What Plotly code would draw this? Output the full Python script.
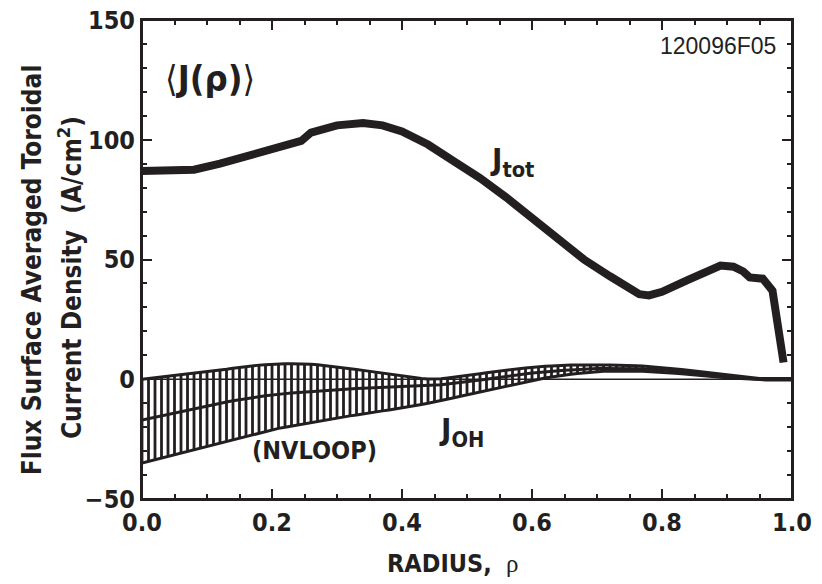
import plotly.graph_objects as go

# ---- data ----
rho_tot = [0.0, 0.05, 0.08, 0.12, 0.16, 0.19, 0.23, 0.245, 0.26, 0.30, 0.34, 0.37, 0.40,
           0.44, 0.48, 0.52, 0.56, 0.60, 0.64, 0.68, 0.72, 0.75, 0.765, 0.78, 0.80, 0.84,
           0.87, 0.89, 0.91, 0.925, 0.935, 0.955, 0.97, 0.987]
j_tot = [87, 87, 87.5, 90, 93, 96, 98.5, 99.5, 103, 106, 107, 106, 103.5,
         98, 91, 84, 76, 67, 58.5, 50, 43, 37.5, 35.5, 35, 36.5, 41.5,
         45.5, 47.5, 47, 45, 42.5, 42, 37, 7]

rho_oh = [0.00, 0.01, 0.02, 0.03, 0.04, 0.05, 0.06, 0.07, 0.08, 0.09,
          0.10, 0.11, 0.12, 0.13, 0.14, 0.15, 0.16, 0.17, 0.18, 0.19,
          0.20, 0.21, 0.22, 0.23, 0.24, 0.25, 0.26, 0.27, 0.28, 0.29,
          0.30, 0.31, 0.32, 0.33, 0.34, 0.35, 0.36, 0.37, 0.38, 0.39,
          0.40, 0.41, 0.42, 0.43, 0.44, 0.45, 0.46, 0.47, 0.48, 0.49,
          0.50, 0.51, 0.52, 0.53, 0.54, 0.55, 0.56, 0.57, 0.58, 0.59,
          0.60, 0.61, 0.62, 0.63, 0.64, 0.65, 0.66, 0.67, 0.68, 0.69,
          0.70, 0.71, 0.72, 0.73, 0.74, 0.75, 0.76, 0.77, 0.78, 0.79,
          0.80, 0.81, 0.82, 0.83, 0.84, 0.85, 0.86, 0.87, 0.88, 0.89,
          0.90, 0.91, 0.92, 0.93, 0.94, 0.95, 0.96, 0.97, 0.98, 0.99, 1.00]
j_oh = [-17.0, -16.4, -15.8, -15.2, -14.6, -14.0, -13.4, -12.8, -12.2, -11.6,
        -11.0, -10.5, -10.0, -9.5, -9.0, -8.5, -8.1, -7.7, -7.3, -6.9,
        -6.5, -6.2, -6.0, -5.7, -5.5, -5.2, -5.0, -4.8, -4.7, -4.5,
        -4.3, -4.2, -4.1, -3.9, -3.8, -3.7, -3.6, -3.5, -3.4, -3.3,
        -3.2, -3.1, -2.9, -2.8, -2.6, -2.5, -2.3, -2.0, -1.7, -1.5,
        -1.2, -0.8, -0.4, 0.0, 0.4, 0.8, 1.2, 1.5, 1.9, 2.2,
        2.6, 2.8, 3.1, 3.3, 3.6, 3.8, 3.9, 4.1, 4.2, 4.4,
        4.5, 4.5, 4.5, 4.6, 4.6, 4.6, 4.5, 4.4, 4.2, 4.1,
        4.0, 3.7, 3.5, 3.2, 3.0, 2.7, 2.4, 2.1, 1.8, 1.5,
        1.2, 0.9, 0.7, 0.4, 0.2, 0.1, 0.0, 0.0, 0.0, 0.0, 0.0]
j_oh_hi = [0.0, 0.3, 0.6, 0.9, 1.2, 1.5, 1.8, 2.1, 2.4, 2.7,
           3.0, 3.4, 3.8, 4.2, 4.6, 5.0, 5.3, 5.6, 5.9, 6.1,
           6.3, 6.4, 6.5, 6.5, 6.5, 6.5, 6.3, 6.1, 5.8, 5.6,
           5.3, 4.9, 4.5, 4.1, 3.7, 3.3, 2.9, 2.5, 2.0, 1.6,
           1.2, 0.9, 0.6, 0.3, 0.1, 0.0, 0.2, 0.5, 0.8, 1.1,
           1.5, 1.9, 2.3, 2.7, 3.1, 3.5, 3.8, 4.1, 4.4, 4.7,
           5.0, 5.2, 5.4, 5.5, 5.7, 5.8, 5.9, 5.9, 6.0, 6.0,
           6.0, 6.0, 5.9, 5.9, 5.8, 5.8, 5.6, 5.5, 5.3, 5.2,
           5.0, 4.7, 4.4, 4.1, 3.8, 3.5, 3.2, 2.8, 2.5, 2.1,
           1.8, 1.5, 1.2, 0.8, 0.5, 0.3, 0.3, 0.3, 0.3, 0.3, 0.3]
j_oh_lo = [-35.0, -34.3, -33.6, -32.9, -32.2, -31.5, -30.8, -30.1, -29.4, -28.7,
           -28.0, -27.3, -26.6, -25.9, -25.2, -24.5, -23.8, -23.1, -22.4, -21.7,
           -21.0, -20.5, -20.0, -19.5, -19.0, -18.5, -18.0, -17.6, -17.1, -16.7,
           -16.2, -15.8, -15.3, -14.9, -14.4, -14.0, -13.6, -13.2, -12.8, -12.4,
           -12.0, -11.5, -11.0, -10.5, -10.0, -9.5, -8.9, -8.3, -7.7, -7.1,
           -6.5, -5.9, -5.3, -4.7, -4.1, -3.5, -2.9, -2.3, -1.7, -1.1,
           -0.5, 0.0, 0.5, 0.9, 1.4, 1.8, 2.1, 2.4, 2.7, 2.9,
           3.2, 3.3, 3.3, 3.4, 3.5, 3.5, 3.4, 3.3, 3.2, 3.1,
           3.0, 2.8, 2.5, 2.3, 2.0, 1.8, 1.6, 1.3, 1.1, 0.8,
           0.6, 0.4, 0.2, 0.0, -0.2, -0.3, -0.3, -0.3, -0.3, -0.3, -0.3]

x_ticks = [0.0, 0.2, 0.4, 0.6, 0.8, 1.0]
y_ticks = [-50, 0, 50, 100, 150]

INK = "#231f20"
BOLD = "Liberation Sans Narrow, DejaVu Sans Condensed, Arial Narrow, sans-serif"
REG = "Liberation Sans, Arial, sans-serif"

err_up = [h - c for h, c in zip(j_oh_hi, j_oh)]
err_dn = [c - l for c, l in zip(j_oh, j_oh_lo)]

fig = go.Figure()
# zero line
fig.add_trace(go.Scatter(x=[0, 1], y=[0, 0], mode="lines",
                         line=dict(color=INK, width=1.5), hoverinfo="skip"))
# hatched uncertainty band (vertical error bars) + centre line
fig.add_trace(go.Scatter(x=rho_oh, y=j_oh, mode="lines",
                         line=dict(color=INK, width=3),
                         error_y=dict(type="data", symmetric=False, array=err_up,
                                      arrayminus=err_dn, width=0, thickness=2.8, color=INK)))
fig.add_trace(go.Scatter(x=rho_oh, y=j_oh_hi, mode="lines", line=dict(color=INK, width=3)))
fig.add_trace(go.Scatter(x=rho_oh, y=j_oh_lo, mode="lines", line=dict(color=INK, width=3)))
# total current density
fig.add_trace(go.Scatter(x=rho_tot, y=j_tot, mode="lines",
                         line=dict(color=INK, width=8)))

axis_common = dict(showline=True, linecolor=INK, linewidth=2, mirror="ticks",
                   ticks="inside", ticklen=10, tickwidth=2, tickcolor=INK,
                   showgrid=False, zeroline=False, automargin=False,
                   ticklabeloverflow="allow",
                   tickfont=dict(family=BOLD, size=25, color=INK, weight="bold"))

fig.update_xaxes(range=[0, 1], tickvals=x_ticks, ticktext=[f"{v:.1f}" for v in x_ticks],
                 minor=dict(dtick=0.05, ticklen=5, tickwidth=1.5, ticks="inside", tickcolor=INK),
                 **axis_common)
fig.update_yaxes(range=[-50, 150], tickvals=y_ticks,
                 ticktext=[("\u2212" + str(-v)) if v < 0 else str(v) for v in y_ticks],
                 minor=dict(dtick=10, ticklen=5, tickwidth=1.5, ticks="inside", tickcolor=INK),
                 **axis_common)

# page body has an 8px margin: size the figure so the plot area lands where the reference has it
fig.update_layout(width=814, height=576, margin=dict(l=134, r=30, t=12, b=85),
                  plot_bgcolor="white", paper_bgcolor="white", showlegend=False,
                  font=dict(family=BOLD, color=INK))

# plot frame
fig.add_shape(type="rect", xref="paper", yref="paper", x0=0, y0=0, x1=1, y1=1,
              line=dict(color=INK, width=2), layer="above")

ann = []
def add(x, y, text, size, ref="data", family=BOLD, xanchor="center", angle=0):
    r = ("x", "y") if ref == "data" else ("paper", "paper")
    ann.append(dict(x=x, y=y, xref=r[0], yref=r[1], showarrow=False, text=text,
                    xanchor=xanchor, yanchor="middle", textangle=angle,
                    font=dict(family=family, size=size, color=INK)))

add(0.105, 125.5, "\u27e8<b>J(\u03c1)</b>\u27e9", 36)
add(0.978, 139.3, "120096F05", 23, family=REG, xanchor="right")
add(0.532, 90.8, "<b>J<sub>tot</sub></b>", 31, xanchor="left")
add(0.454, -21.8, "<b>J<sub>OH</sub></b>", 31, xanchor="left")
add(0.265, -29.7, "<b>(NVLOOP)</b>", 25)
add(-0.169, 0.478, "<b>Flux Surface Averaged Toroidal</b>", 26, ref="paper", angle=-90)
add(-0.111, 0.463, "<b>Current Density  (A/cm<sup>2</sup>)</b>", 26, ref="paper", angle=-90)
add(0.478, -0.134,
    "<b>RADIUS,</b>  <span style='font-family:Liberation Serif, DejaVu Serif, serif'>\u03c1</span>",
    25, ref="paper")
fig.update_layout(annotations=ann)

fig.write_html("out.html")
